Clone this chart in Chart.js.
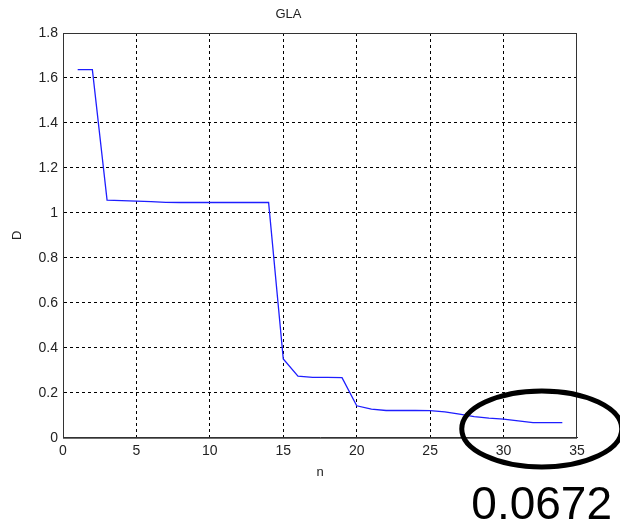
<!DOCTYPE html>
<html>
<head>
<meta charset="utf-8">
<script src="https://cdn.jsdelivr.net/npm/chart.js@4"></script>
<style>
  html, body { margin: 0; padding: 0; background: #fff; }
</style>
</head>
<body>
<canvas id="c" width="620" height="528"></canvas>
<script>
// Distortion D of the GLA codebook against the iteration count n
const n = [1, 2, 3, 4, 5, 6, 7, 8, 9, 10, 11, 12, 13, 14, 15, 16, 17,
           18, 19, 20, 21, 22, 23, 24, 25, 26, 27, 28, 29, 30, 31, 32, 33, 34];
const D = [1.637, 1.637, 1.057, 1.054, 1.052, 1.050, 1.047, 1.046, 1.046, 1.046,
           1.046, 1.046, 1.046, 1.046, 0.350, 0.274, 0.268, 0.268, 0.267, 0.142,
           0.127, 0.121, 0.121, 0.121, 0.120, 0.115, 0.105, 0.094, 0.087, 0.083,
           0.075, 0.0672, 0.0672, 0.0672];
const xTicks = [0, 5, 10, 15, 20, 25, 30, 35];
const yTicks = [0, 0.2, 0.4, 0.6, 0.8, 1, 1.2, 1.4, 1.6, 1.8];

const titleText = 'GLA';
const xLabel = 'n';
const yLabel = 'D';
// final distortion, circled and printed under the axes
const finalValue = D[D.length - 1];
const circleCenter = { x: 32.6, y: 0.039 };

const FONT = '"Liberation Sans", Arial, sans-serif';
const TEXT = '#222';

const boxAndNote = {
  id: 'boxAndNote',
  afterDraw(chart) {
    const { ctx, chartArea: a, scales } = chart;
    ctx.save();
    // closed axes box
    ctx.strokeStyle = '#333';
    ctx.lineWidth = 1;
    ctx.strokeRect(a.left + 0.5, a.top + 0.5, a.right - a.left - 1, a.bottom - a.top);
    // ellipse around the converged tail
    const cx = scales.x.getPixelForValue(circleCenter.x);
    const cy = scales.y.getPixelForValue(circleCenter.y);
    ctx.beginPath();
    ctx.ellipse(cx, cy, 80, 38, 0, 0, Math.PI * 2);
    ctx.lineWidth = 5;
    ctx.strokeStyle = '#000';
    ctx.stroke();
    // final value text
    ctx.fillStyle = '#000';
    ctx.font = '46px ' + FONT;
    ctx.textAlign = 'right';
    ctx.textBaseline = 'alphabetic';
    ctx.fillText(finalValue.toFixed(4), 612, 519);
    ctx.restore();
  }
};

const gridStyle = {
  color: '#000',
  lineWidth: 1,
  drawTicks: false
};

new Chart(document.getElementById('c'), {
  type: 'line',
  data: {
    datasets: [{
      data: n.map((v, i) => ({ x: v, y: D[i] })),
      borderColor: 'rgb(30,30,255)',
      borderWidth: 1.3,
      pointRadius: 0,
      tension: 0,
      fill: false
    }]
  },
  options: {
    responsive: false,
    animation: false,
    layout: { padding: { left: 0, right: 43, top: 0, bottom: 0 } },
    plugins: {
      legend: { display: false },
      tooltip: { enabled: false },
      title: {
        display: true,
        text: titleText,
        color: TEXT,
        font: { family: FONT, size: 13, weight: 'normal' },
        padding: { top: 7, bottom: 10.4 }
      }
    },
    scales: {
      x: {
        type: 'linear',
        min: 0,
        max: 35,
        afterBuildTicks: s => { s.ticks = xTicks.map(v => ({ value: v })); },
        afterFit: s => { s.height = 90.3; },
        ticks: {
          color: TEXT,
          font: { family: FONT, size: 14 },
          padding: 5,
          maxRotation: 0,
          callback: v => String(v)
        },
        grid: {
          ...gridStyle,
          color: ctx => (ctx.tick && (ctx.tick.value === 0 || ctx.tick.value === 35)) ? 'rgba(0,0,0,0)' : '#000'
        },
        border: { display: true, color: '#333', width: 1, dash: [3, 3] },
        title: {
          display: true,
          text: xLabel,
          color: TEXT,
          font: { family: FONT, size: 13 },
          padding: { top: 0, bottom: 48 }
        }
      },
      y: {
        min: 0,
        max: 1.8,
        afterBuildTicks: s => { s.ticks = yTicks.map(v => ({ value: v })); },
        afterFit: s => { s.width = 63; },
        ticks: {
          color: TEXT,
          font: { family: FONT, size: 14 },
          padding: 5,
          callback: v => String(+Number(v).toFixed(1))
        },
        grid: {
          ...gridStyle,
          color: ctx => (ctx.tick && (ctx.tick.value === 0 || ctx.tick.value === 1.8)) ? 'rgba(0,0,0,0)' : '#000'
        },
        border: { display: true, color: '#333', width: 1, dash: [3, 3] },
        title: {
          display: true,
          text: yLabel,
          color: TEXT,
          font: { family: FONT, size: 13 },
          padding: { top: 10, bottom: 0 }
        }
      }
    }
  },
  plugins: [boxAndNote]
});
</script>
</body>
</html>
